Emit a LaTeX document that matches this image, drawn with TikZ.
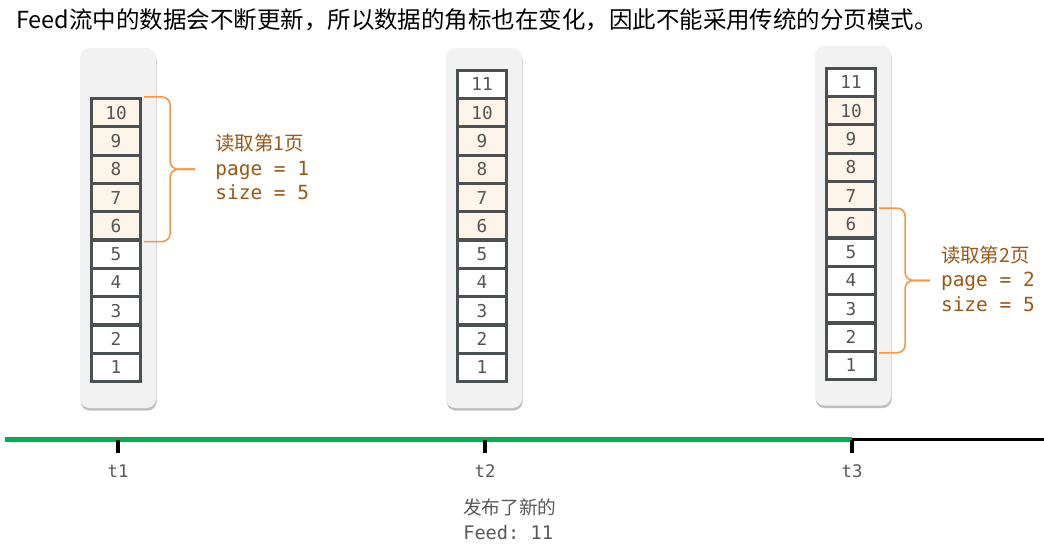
\documentclass[tikz,border=0pt]{standalone}
\usepackage{fontspec}
\setmainfont{Noto Sans CJK SC}
\setmonofont{DejaVu Sans Mono}
\newfontfamily\cjk{Noto Sans CJK SC}
\usepackage{xcolor}
\usepackage{tikz}
\usetikzlibrary{positioning, calc, shadows}

\definecolor{panelgray}{HTML}{F2F2F2}
\definecolor{cellline}{HTML}{4B5152}
\definecolor{cellnew}{HTML}{FDF4EA}
\definecolor{numgray}{HTML}{555555}
\definecolor{braceorange}{HTML}{F79646}
\definecolor{lblbrown}{HTML}{9C5712}
\definecolor{linegreen}{HTML}{00B050}
\definecolor{textgray}{HTML}{595959}

\begin{document}
\begin{tikzpicture}[
  x=0.75pt, y=-0.75pt,
  panel/.style={fill=panelgray, rounded corners=7pt,
                minimum width=57pt, minimum height=270pt,
                drop shadow={shadow xshift=0.5pt, shadow yshift=-2pt,
                             fill=black, opacity=.25}},
  cell/.style={draw=cellline, line width=2.4pt, fill=white,
               minimum width=36.75pt, minimum height=21.225pt,
               inner sep=0pt, text=numgray, font=\ttfamily\fontsize{13.3}{15}\selectfont},
  newcell/.style={cell, fill=cellnew},
  brace/.style={draw=braceorange, line width=1.2pt, rounded corners=6pt},
  lbl/.style={inner sep=0pt, anchor=west, align=left, text=lblbrown,
              font=\fontsize{14.6}{18.4}\selectfont},
  tick/.style={line width=2.4pt},
  tlbl/.style={text=textgray, font=\ttfamily\fontsize{13}{15}\selectfont}
]
  \useasboundingbox (0,0) rectangle (1044,550);

  % --- title ---
  \node[anchor=west, inner sep=0pt, font=\fontsize{17.6}{21}\selectfont]
    (title) at (16,20) {Feed流中的数据会不断更新，所以数据的角标也在变化，因此不能采用传统的分页模式。};

  % --- panels ---
  \node[panel] (pa) at (118,228) {};
  \node[panel] (pb) at (484,228) {};
  \node[panel] (pc) at (853,225.5) {};

  % --- t1 column ---
  \node[cell]    (a1)  at (116,367.35) {1};
  \node[cell]    (a2)  at (116,339.05) {2};
  \node[cell]    (a3)  at (116,310.75) {3};
  \node[cell]    (a4)  at (116,282.45) {4};
  \node[cell]    (a5)  at (116,254.15) {5};
  \node[newcell] (a6)  at (116,225.85) {6};
  \node[newcell] (a7)  at (116,197.55) {7};
  \node[newcell] (a8)  at (116,169.25) {8};
  \node[newcell] (a9)  at (116,140.95) {9};
  \node[newcell] (a10) at (116,112.65) {10};

  % --- t2 column ---
  \node[cell]    (b1)  at (482,367.35) {1};
  \node[cell]    (b2)  at (482,339.05) {2};
  \node[cell]    (b3)  at (482,310.75) {3};
  \node[cell]    (b4)  at (482,282.45) {4};
  \node[cell]    (b5)  at (482,254.15) {5};
  \node[newcell] (b6)  at (482,225.85) {6};
  \node[newcell] (b7)  at (482,197.55) {7};
  \node[newcell] (b8)  at (482,169.25) {8};
  \node[newcell] (b9)  at (482,140.95) {9};
  \node[newcell] (b10) at (482,112.65) {10};
  \node[cell]    (b11) at (482,84.35)  {11};

  % --- t3 column ---
  \node[cell]    (c1)  at (851,365.35) {1};
  \node[cell]    (c2)  at (851,337.05) {2};
  \node[cell]    (c3)  at (851,308.75) {3};
  \node[cell]    (c4)  at (851,280.45) {4};
  \node[cell]    (c5)  at (851,252.15) {5};
  \node[newcell] (c6)  at (851,223.85) {6};
  \node[newcell] (c7)  at (851,195.55) {7};
  \node[newcell] (c8)  at (851,167.25) {8};
  \node[newcell] (c9)  at (851,138.95) {9};
  \node[newcell] (c10) at (851,110.65) {10};
  \node[cell]    (c11) at (851,82.35)  {11};

  % --- page 1 brace ---
  \coordinate (tip1) at ($(a10.north east)!.5!(a6.south east)+(53,0)$);
  \draw[brace] ([xshift=1.5pt]a10.north east) -- ++(26,0) |- (tip1);
  \draw[brace] ([xshift=1.5pt]a6.south east) -- ++(26,0) |- (tip1);
  \node[lbl, right=15pt of tip1, yshift=1.5pt] (lbl1)
    {读取第1页\\\texttt{page = 1}\\\texttt{size = 5}};

  % --- page 2 brace ---
  \coordinate (tip2) at ($(c6.north east)!.5!(c2.south east)+(53,0)$);
  \draw[brace] ([xshift=1.5pt]c6.north east) -- ++(26,0) |- (tip2);
  \draw[brace] ([xshift=1.5pt]c2.south east) -- ++(26,0) |- (tip2);
  \node[lbl, right=8pt of tip2, yshift=1.5pt] (lbl2)
    {读取第2页\\\texttt{page = 2}\\\texttt{size = 5}};

  % --- timeline ---
  \coordinate (start) at (5,439.5);
  \coordinate (m1) at (118,439.5);
  \coordinate (m2) at (485,439.5);
  \coordinate (m3) at (852,439.5);
  \coordinate (stop) at (1044,439.5);
  \draw[linegreen, line width=3.5pt] (start) -- (m3);
  \draw[line width=2.5pt] (m3) -- (stop);
  \draw[tick] (m1) -- ++(0,13);
  \draw[tick] (m2) -- ++(0,13);
  \draw[tick] (m3) -- ++(0,13);

  \node[tlbl] (t1) at (118,471) {t1};
  \node[tlbl] (t2) at (485,471) {t2};
  \node[tlbl] (t3) at (852,471) {t3};

  \node[anchor=west, align=left, inner sep=0pt, text=textgray,
        font=\fontsize{14}{18.75}\selectfont] (news) at (463,519)
    {发布了新的\\\texttt{Feed: 11}};
\end{tikzpicture}
\end{document}
